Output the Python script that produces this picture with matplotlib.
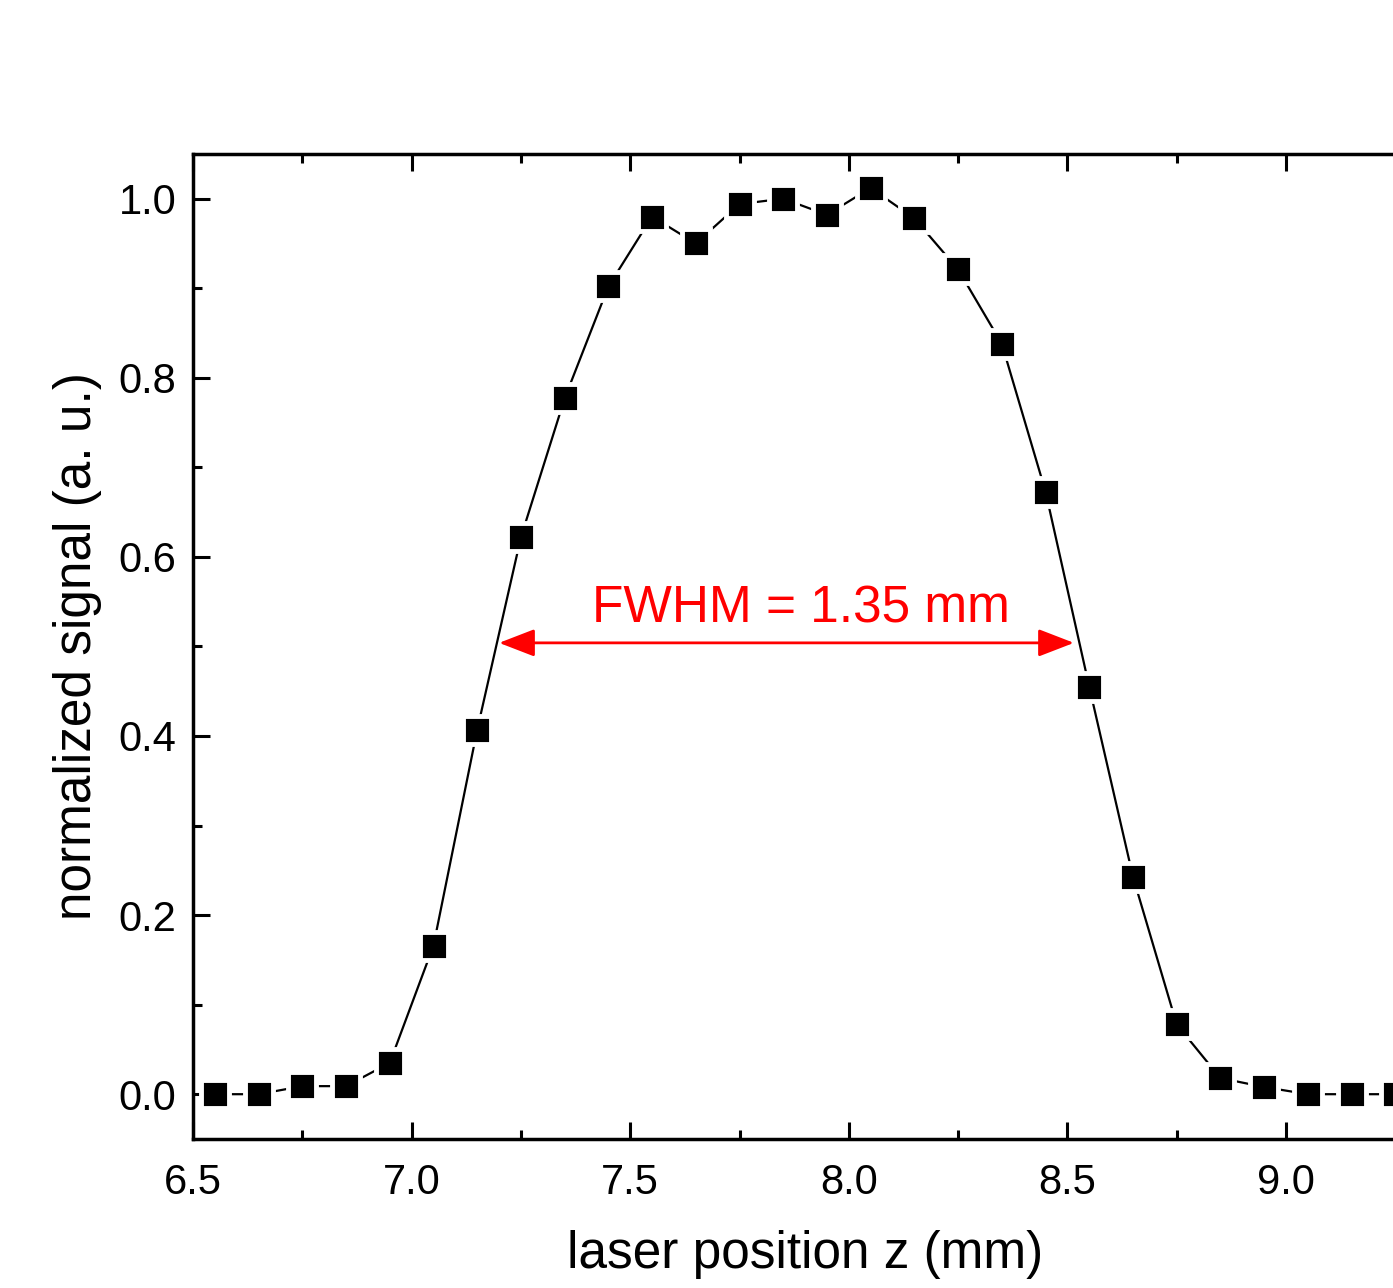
import numpy as np
import matplotlib.pyplot as plt
from matplotlib.ticker import MultipleLocator

plt.rcParams['font.family'] = ['Liberation Sans', 'DejaVu Sans']

z = [6.55, 6.65, 6.75, 6.85, 6.95, 7.05, 7.15, 7.25, 7.35, 7.45,
     7.55, 7.65, 7.75, 7.85, 7.95, 8.05, 8.15, 8.25, 8.35, 8.45,
     8.55, 8.65, 8.75, 8.85, 8.95, 9.05, 9.15, 9.25]
signal = [0.0, 0.0, 0.009, 0.009, 0.035, 0.166, 0.407, 0.622, 0.777, 0.902,
          0.980, 0.950, 0.994, 1.0, 0.982, 1.012, 0.978, 0.921, 0.838, 0.673,
          0.455, 0.243, 0.078, 0.018, 0.008, 0.0, 0.0, 0.0]
fwhm_left = 7.20
fwhm_right = 8.515
fwhm_level = 0.504
fwhm_text = 'FWHM = 1.35 mm'

fig = plt.figure(figsize=(13.93, 12.88), dpi=100)
# axes run past the right edge of the picture, as in the original crop
ax = fig.add_axes([0.1386, 0.1157, 0.8787, 0.7648])

ax.plot(z, signal, color='black', lw=1.6, marker='s', ms=19.5,
        mfc='black', mec='white', mew=3.5, zorder=3)

ax.annotate('', xy=(fwhm_right, fwhm_level), xytext=(fwhm_left, fwhm_level),
            arrowprops=dict(arrowstyle='<|-|>,head_length=2.2,head_width=0.85',
                            color='red', lw=2, shrinkA=0, shrinkB=0))
ax.text((fwhm_left + fwhm_right) / 2 + 0.033, fwhm_level + 0.011, fwhm_text,
        color='red', fontsize=37, ha='center', va='bottom')

ax.set_xlim(6.5, 9.3)
ax.set_ylim(-0.05, 1.05)
ax.xaxis.set_major_locator(MultipleLocator(0.5))
ax.xaxis.set_minor_locator(MultipleLocator(0.25))
ax.yaxis.set_major_locator(MultipleLocator(0.2))
ax.yaxis.set_minor_locator(MultipleLocator(0.1))
ax.xaxis.set_major_formatter(lambda v, p: f'{v:.1f}')
ax.yaxis.set_major_formatter(lambda v, p: f'{v:.1f}')

ax.tick_params(which='both', direction='in', top=True, right=True, width=2.2,
               labelsize=30)
ax.tick_params(axis='x', pad=17)
ax.tick_params(axis='y', pad=12)
ax.tick_params(which='major', length=12.5)
ax.tick_params(which='minor', length=6.5)
for s in ax.spines.values():
    s.set_linewidth(2.5)

ax.set_xlabel('laser position z (mm)', fontsize=37, labelpad=20)
ax.set_ylabel('normalized signal (a. u.)', fontsize=37, labelpad=12)

fig.savefig('out.png')
